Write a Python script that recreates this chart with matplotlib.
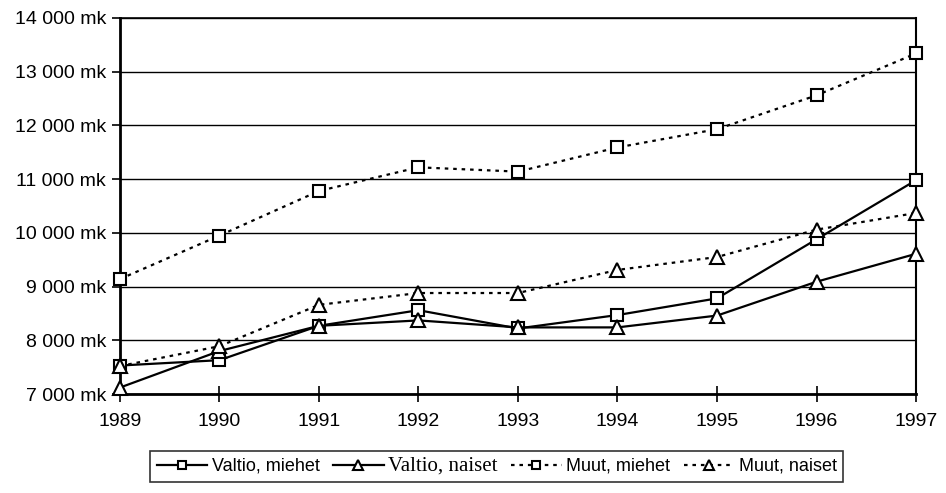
import matplotlib
matplotlib.use("Agg")
import matplotlib.pyplot as plt
from matplotlib.ticker import FuncFormatter, MultipleLocator

years = [1989, 1990, 1991, 1992, 1993, 1994, 1995, 1996, 1997]
valtio_miehet = [7530, 7630, 8270, 8560, 8220, 8470, 8780, 9880, 10980]
valtio_naiset = [7120, 7800, 8270, 8370, 8240, 8240, 8460, 9090, 9610]
muut_miehet = [9140, 9950, 10780, 11220, 11140, 11590, 11930, 12560, 13340]
muut_naiset = [7520, 7890, 8660, 8880, 8880, 9310, 9550, 10060, 10370]
labels = ["Valtio, miehet", "Valtio, naiset", "Muut, miehet", "Muut, naiset"]

plt.rcParams['font.family'] = ['Liberation Sans', 'DejaVu Sans']

fig = plt.figure(figsize=(9.46, 4.93), dpi=100)
ax = fig.add_axes([0.1268, 0.2008, 0.8415, 0.7627])

dot = (0, (1.6, 2.2))
common = dict(color='black', lw=1.6, markerfacecolor='white', markeredgecolor='black',
              markeredgewidth=1.5, clip_on=False, zorder=3)
h1, = ax.plot(years, valtio_miehet, marker='s', ms=9, ls='-', label=labels[0], **common)
h2, = ax.plot(years, valtio_naiset, marker='^', ms=9.5, ls='-', label=labels[1], **common)
h3, = ax.plot(years, muut_miehet, marker='s', ms=9, ls=dot, label=labels[2], **common)
h4, = ax.plot(years, muut_naiset, marker='^', ms=9.5, ls=dot, label=labels[3], **common)

ax.set_xlim(1989, 1997)
ax.set_ylim(7000, 14000)
ax.yaxis.set_major_locator(MultipleLocator(1000))
ax.set_xticks(years)
ax.yaxis.set_major_formatter(FuncFormatter(lambda v, p: f"{int(v):,} mk".replace(",", " ")))
ax.grid(axis='y', color='black', lw=1.0)
ax.set_axisbelow(True)

for s in ['left', 'bottom']:
    ax.spines[s].set_linewidth(2.0)
ax.spines['right'].set_linewidth(1.5)
ax.spines['top'].set_linewidth(1.2)
ax.tick_params(axis='y', direction='out', length=6, width=1.2, labelsize=14, pad=4)
ax.tick_params(axis='x', direction='inout', length=12, width=1.2, labelsize=14, pad=8)

leg = fig.legend(handles=[h1, h2, h3, h4], loc='center', bbox_to_anchor=(0.525, 0.054),
                 ncol=4, frameon=True, fancybox=False, edgecolor='black', fontsize=13,
                 handlelength=2.8, handletextpad=0.25, columnspacing=0.75, borderpad=0.35,
                 borderaxespad=0, markerscale=0.7)
leg.get_frame().set_linewidth(1.2)
for t in leg.get_texts():
    if t.get_text() == "Valtio, naiset":
        t.set_family(['Liberation Serif', 'DejaVu Serif'])
        t.set_fontsize(15)

fig.savefig("out.png", dpi=100)
